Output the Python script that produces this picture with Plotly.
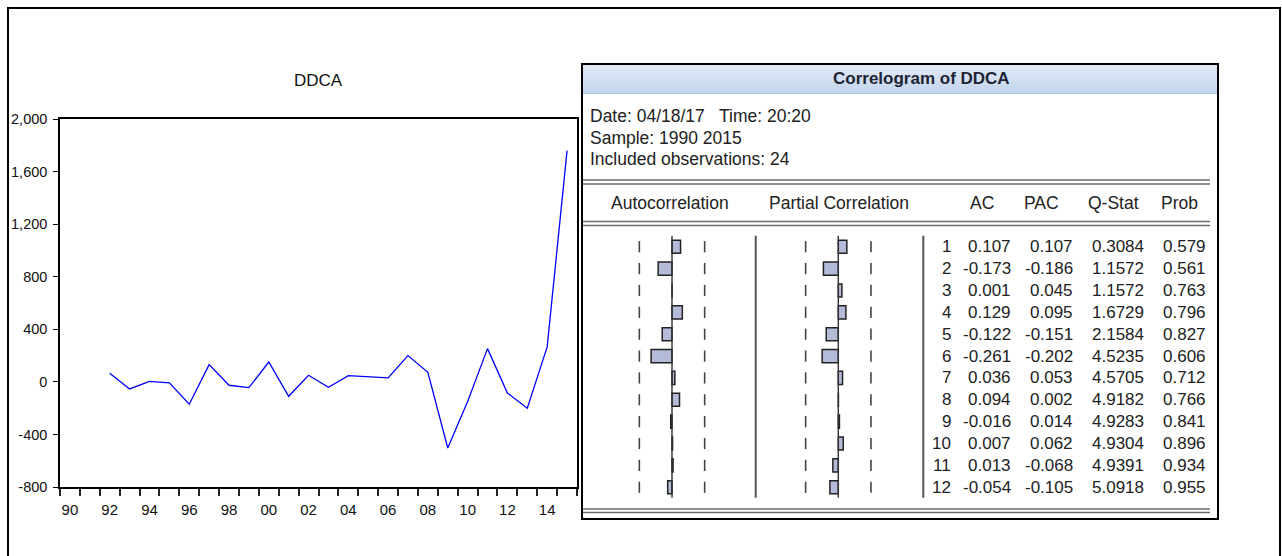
import plotly.graph_objects as go

# ---------------- data ----------------
years = [1992, 1993, 1994, 1995, 1996, 1997, 1998, 1999, 2000, 2001, 2002, 2003,
         2004, 2005, 2006, 2007, 2008, 2009, 2010, 2011, 2012, 2013, 2014, 2015]
ddca = [65, -54, 4, -8, -170, 131, -26, -44, 151, -110, 50, -41,
        47, 40, 30, 200, 73, -503, -150, 253, -85, -201, 266, 1759]

x_tick_years = [1990, 1992, 1994, 1996, 1998, 2000, 2002, 2004, 2006, 2008, 2010, 2012, 2014]
x_tick_text = ["90", "92", "94", "96", "98", "00", "02", "04", "06", "08", "10", "12", "14"]
y_tick_vals = [-800, -400, 0, 400, 800, 1200, 1600, 2000]
y_tick_text = ["-800", "-400", "0", "400", "800", "1,200", "1,600", "2,000"]

lags = [1, 2, 3, 4, 5, 6, 7, 8, 9, 10, 11, 12]
ac = [0.107, -0.173, 0.001, 0.129, -0.122, -0.261, 0.036, 0.094, -0.016, 0.007, 0.013, -0.054]
pac = [0.107, -0.186, 0.045, 0.095, -0.151, -0.202, 0.053, 0.002, 0.014, 0.062, -0.068, -0.105]
ac_txt = ["0.107", "-0.173", "0.001", "0.129", "-0.122", "-0.261", "0.036", "0.094", "-0.016", "0.007", "0.013", "-0.054"]
pac_txt = ["0.107", "-0.186", "0.045", "0.095", "-0.151", "-0.202", "0.053", "0.002", "0.014", "0.062", "-0.068", "-0.105"]
qstat_txt = ["0.3084", "1.1572", "1.1572", "1.6729", "2.1584", "4.5235", "4.5705", "4.9182", "4.9283", "4.9304", "4.9391", "5.0918"]
prob_txt = ["0.579", "0.561", "0.763", "0.796", "0.827", "0.606", "0.712", "0.766", "0.841", "0.896", "0.934", "0.955"]
n_obs = 24
bound = 2 / n_obs ** 0.5

info_lines = ["Date: 04/18/17&nbsp;&nbsp; Time: 20:20", "Sample: 1990 2015", "Included observations: 24"]
col_headers = ["Autocorrelation", "Partial Correlation", "AC", "PAC", "Q-Stat", "Prob"]

# ---------------- layout helpers ----------------
W, H = 1282, 556
FONT = "Liberation Sans, Arial, sans-serif"
TXT = "#222222"


def fx(px):
    return px / W


def fy(py):
    return 1 - py / H


fig = go.Figure()

# left line chart
fig.add_trace(go.Scatter(x=years, y=ddca, mode="lines",
                         line=dict(color="#0000ff", width=1.3),
                         xaxis="x", yaxis="y", hoverinfo="skip"))

# correlogram bars
bar_style = dict(color="#b3bbd9", line=dict(color="#222222", width=1.5))
fig.add_trace(go.Bar(x=ac, y=lags, orientation="h", width=0.6, marker=bar_style,
                     xaxis="x2", yaxis="y2", hoverinfo="skip"))
fig.add_trace(go.Bar(x=pac, y=lags, orientation="h", width=0.6, marker=bar_style,
                     xaxis="x3", yaxis="y2", hoverinfo="skip"))

# confidence-bound dashes
dash_marker = dict(symbol="line-ns", size=8, line=dict(color="#444444", width=1.6))
for xa in ["x2", "x3"]:
    fig.add_trace(go.Scatter(x=[-bound] * len(lags) + [bound] * len(lags), y=lags + lags,
                             mode="markers", marker=dash_marker,
                             xaxis=xa, yaxis="y2", hoverinfo="skip", cliponaxis=False))

shapes = []
# outer frame
shapes.append(dict(type="rect", xref="paper", yref="paper", x0=fx(8), x1=fx(1280),
                   y0=fy(600), y1=fy(8), line=dict(color="black", width=2)))
# correlogram header gradient
top_c = (224, 234, 247)
bot_c = (196, 214, 237)
n_str = 7
y_top, y_bot = 65, 93
for i in range(n_str):
    t = i / (n_str - 1)
    c = tuple(int(round(top_c[k] + (bot_c[k] - top_c[k]) * t)) for k in range(3))
    y0 = y_top + (y_bot - y_top) * i / n_str
    y1 = y_top + (y_bot - y_top) * (i + 1) / n_str
    shapes.append(dict(type="rect", xref="paper", yref="paper", x0=fx(583), x1=fx(1217),
                       y0=fy(y1 + 0.5), y1=fy(y0), fillcolor="rgb(%d,%d,%d)" % c,
                       line=dict(width=0), layer="below"))
shapes.append(dict(type="line", xref="paper", yref="paper", x0=fx(583), x1=fx(1217),
                   y0=fy(93.5), y1=fy(93.5), line=dict(color="#a8bddb", width=1)))
# correlogram border
shapes.append(dict(type="rect", xref="paper", yref="paper", x0=fx(582), x1=fx(1218),
                   y0=fy(519), y1=fy(64), line=dict(color="black", width=2)))
# double rules
for yy in [180, 184, 221.5, 225.5, 509, 512.5]:
    shapes.append(dict(type="line", xref="paper", yref="paper", x0=fx(583), x1=fx(1210),
                       y0=fy(yy), y1=fy(yy), line=dict(color="#6a6a6a", width=1.6)))
# column separators
for xx in [755.7, 923.3]:
    shapes.append(dict(type="line", xref="paper", yref="y2", x0=fx(xx), x1=fx(xx),
                       y0=0.42, y1=12.48, line=dict(color="#555555", width=2)))
# zero lines of the two bar panels
for xa in ["x2", "x3"]:
    shapes.append(dict(type="line", xref=xa, yref="y2", x0=0, x1=0,
                       y0=0.42, y1=12.48, line=dict(color="#333333", width=1.4)))

annotations = []
annotations.append(dict(text="DDCA", x=fx(318.5), y=fy(80.5), xref="paper", yref="paper",
                        showarrow=False, xanchor="center", yanchor="middle",
                        font=dict(family=FONT, size=17, color="#111111")))
annotations.append(dict(text="<b>Correlogram of DDCA</b>", x=fx(921), y=fy(78.5),
                        xref="paper", yref="paper", showarrow=False,
                        xanchor="center", yanchor="middle",
                        font=dict(family=FONT, size=17, color="#1e2433")))
for line_txt, yy in zip(info_lines, [116, 137.5, 159]):
    annotations.append(dict(text=line_txt, x=fx(588), y=fy(yy), xref="paper", yref="paper",
                            showarrow=False, xanchor="left", yanchor="middle",
                            font=dict(family=FONT, size=17.5, color=TXT)))
for htxt, xx in zip(col_headers, [670, 838.5, 981.5, 1041, 1113.5, 1179]):
    annotations.append(dict(text=htxt, x=fx(xx), y=fy(203), xref="paper", yref="paper",
                            showarrow=False, xanchor="center", yanchor="middle",
                            font=dict(family=FONT, size=17.5, color=TXT)))
cols = [([str(l) for l in lags], 953), (ac_txt, 1013), (pac_txt, 1075),
        (qstat_txt, 1146), (prob_txt, 1208)]
for vals, xr in cols:
    for lag, v in zip(lags, vals):
        annotations.append(dict(text=v, x=fx(xr), y=lag, xref="paper", yref="y2",
                                showarrow=False, xanchor="right", yanchor="middle",
                                font=dict(family=FONT, size=17, color=TXT)))

fig.update_layout(
    template="none",
    width=W, height=H,
    margin=dict(l=0, r=0, t=0, b=0, pad=0, autoexpand=False),
    paper_bgcolor="white", plot_bgcolor="white",
    showlegend=False,
    font=dict(family=FONT, color=TXT),
    xaxis=dict(domain=[fx(60), fx(577)], range=[1989.5, 2015.5], anchor="y",
               automargin=False,
               tickmode="array", tickvals=x_tick_years, ticktext=x_tick_text,
               ticks="", showgrid=False, zeroline=False,
               showline=True, linecolor="black", linewidth=1.5, mirror=True,
               tickfont=dict(family=FONT, size=15, color="#111111"),
               ticklabelstandoff=8,
               minor=dict(tickmode="array",
                          tickvals=[y - 0.5 for y in range(1990, 2017)],
                          ticks="outside", ticklen=7, tickwidth=1.5, tickcolor="#222222",
                          showgrid=False)),
    yaxis=dict(domain=[fy(487), fy(119)], range=[-800, 2000], anchor="x",
               automargin=False,
               tickmode="array", tickvals=y_tick_vals, ticktext=y_tick_text,
               ticks="outside", ticklen=5, tickwidth=1.2, tickcolor="black",
               showgrid=False, zeroline=False,
               showline=True, linecolor="black", linewidth=1.5, mirror=True,
               tickfont=dict(family=FONT, size=14.5, color="#111111"),
               ticklabelstandoff=3),
    xaxis2=dict(domain=[fx(622), fx(722)], range=[-0.625, 0.625], anchor="y2",
                visible=False, automargin=False),
    xaxis3=dict(domain=[fx(788.3), fx(888.3)], range=[-0.625, 0.625], anchor="y2",
                visible=False, automargin=False),
    yaxis2=dict(domain=[fy(498.2), fy(235.8)], range=[12.5, 0.5], anchor="x2",
                visible=False, automargin=False),
    shapes=shapes,
    annotations=annotations,
)

fig.write_html("out.html", config={"displayModeBar": False},
               post_script="document.body.style.margin='0';document.body.style.overflow='hidden';")
